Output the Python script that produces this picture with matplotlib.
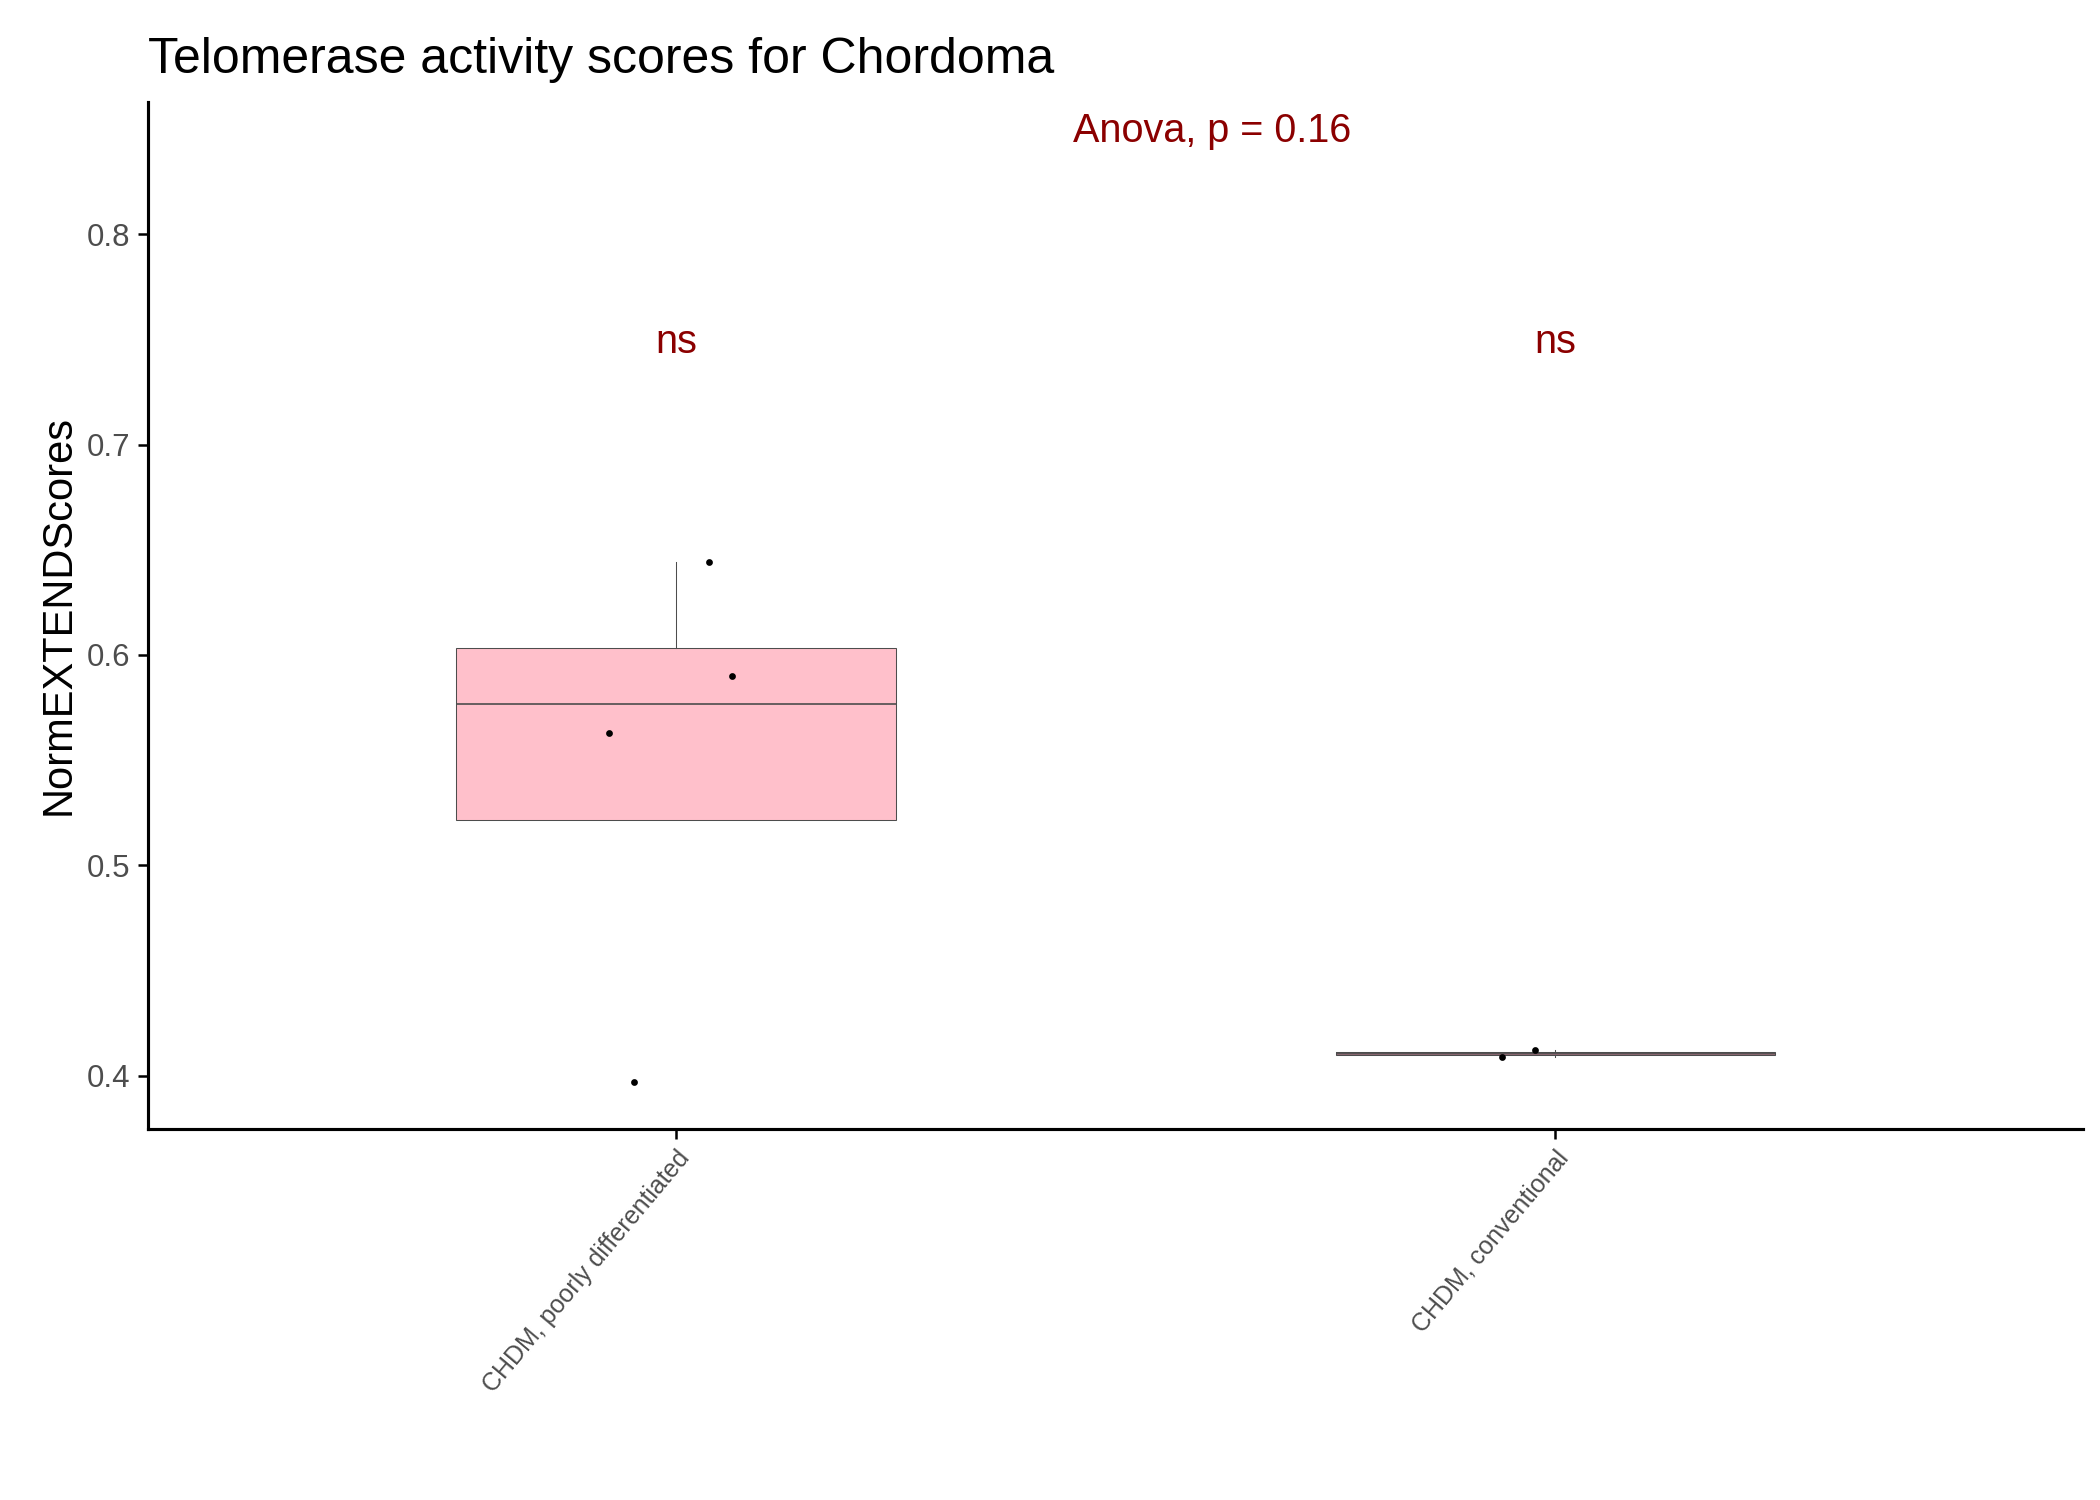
import matplotlib
matplotlib.use("Agg")
import matplotlib.pyplot as plt
import numpy as np

plt.rcParams['font.family'] = ['Liberation Sans', 'DejaVu Sans']

categories = ["CHDM, poorly differentiated", "CHDM, conventional"]
values = [[0.397, 0.563, 0.590, 0.644], [0.409, 0.412]]
jitter = [[-0.047, -0.076, 0.064, 0.038], [-0.061, -0.023]]
box_colors = ["pink", "#8a6670"]
sig_labels = ["ns", "ns"]
title = "Telomerase activity scores for Chordoma"
anova_text = "Anova, p = 0.16"

fig = plt.figure(figsize=(14, 10), dpi=150)
ax = fig.add_axes([0.0705, 0.2475, 0.9215, 0.6845])

pos = np.arange(1, len(categories) + 1)
bp = ax.boxplot(values, positions=pos, widths=0.5, showfliers=False, patch_artist=True,
                whis=1.5, showcaps=False,
                medianprops=dict(color="#4d4d4d", lw=0.8),
                whiskerprops=dict(color="#4d4d4d", lw=0.5),
                boxprops=dict(edgecolor="#4d4d4d", lw=0.5))
for patch, c in zip(bp['boxes'], box_colors):
    patch.set_facecolor(c)

for i, (v, j) in enumerate(zip(values, jitter)):
    ax.scatter(pos[i] + np.array(j), v, s=5, color="black", zorder=3)

for i, lab in enumerate(sig_labels):
    ax.text(pos[i], 0.749, lab, color="#8B0000", fontsize=19, ha="center", va="center")
ax.text(1.61, 0.849, anova_text, color="#8B0000", fontsize=19, ha="center", va="center")

ax.set_xlim(0.4, 2.6)
ax.set_ylim(0.3747, 0.8629)
ax.set_yticks([0.4, 0.5, 0.6, 0.7, 0.8])
ax.set_xticks(pos)
ax.set_xticklabels(categories, rotation=50, ha="right", rotation_mode="anchor",
                   fontsize=12, color="#4d4d4d")
ax.tick_params(axis="y", labelsize=15, labelcolor="#4d4d4d", length=5, width=1.2)
ax.tick_params(axis="x", length=5, width=1.2)
for s in ["top", "right"]:
    ax.spines[s].set_visible(False)
for s in ["left", "bottom"]:
    ax.spines[s].set_linewidth(1.5)
ax.set_ylabel("NormEXTENDScores", fontsize=20)
ax.set_title(title, fontsize=24, loc="left", x=0.0, pad=14)

fig.savefig("out.png", dpi=150)
